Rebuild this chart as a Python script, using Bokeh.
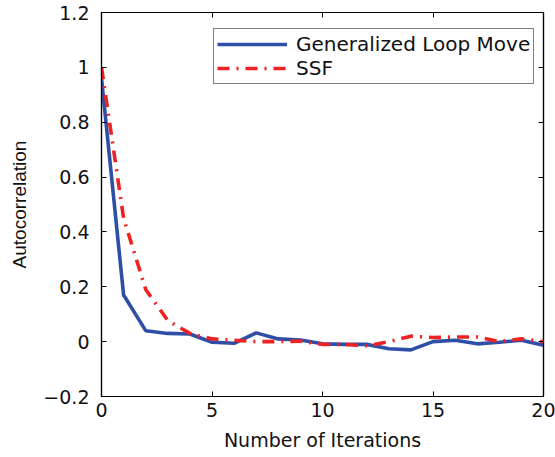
from bokeh.plotting import figure
from bokeh.models import LinearAxis, FixedTicker, Legend, LegendItem, Range1d
from bokeh.embed import file_html
from bokeh.resources import INLINE

iterations = list(range(21))
glm = [0.96, 0.17, 0.04, 0.03, 0.028, -0.002, -0.006, 0.032, 0.01, 0.006, -0.008,
       -0.01, -0.01, -0.026, -0.03, 0.0, 0.005, -0.008, -0.002, 0.005, -0.013]
ssf = [1.0, 0.45, 0.19, 0.077, 0.03, 0.01, 0.005, 0.0, 0.0, 0.002, -0.01,
       -0.01, -0.015, 0.0, 0.02, 0.015, 0.017, 0.017, 0.0, 0.01, 0.0]
x_ticks = [0, 5, 10, 15, 20]
y_ticks = [-0.2, 0, 0.2, 0.4, 0.6, 0.8, 1, 1.2]
y_tick_labels = ["−0.2", "0", "0.2", "0.4", "0.6", "0.8", "1", "1.2"]

FONT = "DejaVu Sans"
YFONT = "Liberation Sans"

p = figure(width=555, height=457, output_backend="svg", toolbar_location=None,
           x_range=Range1d(0, 20), y_range=Range1d(-0.2, 1.2),
           x_axis_location=None, y_axis_location=None,
           min_border_left=101, min_border_right=12, min_border_top=12, min_border_bottom=61)
p.grid.visible = False
p.outline_line_color = "black"
p.outline_line_width = 1.2
p.background_fill_color = "white"
p.border_fill_color = "white"

l1 = p.line(iterations, glm, line_color="#2f4fa7", line_width=3.6)
l2 = p.line(iterations, ssf, line_color="#ee2222", line_width=3.6, line_dash="12 7 2 7")

bottom = LinearAxis(ticker=FixedTicker(ticks=x_ticks), axis_label="Number of Iterations")
left = LinearAxis(ticker=FixedTicker(ticks=y_ticks), axis_label="Autocorrelation",
                  major_label_overrides={t: s for t, s in zip(y_ticks, y_tick_labels)})
top = LinearAxis(ticker=FixedTicker(ticks=x_ticks),
                 major_label_overrides={t: "" for t in x_ticks})
right = LinearAxis(ticker=FixedTicker(ticks=y_ticks),
                   major_label_overrides={t: "" for t in y_ticks})
p.add_layout(bottom, "below")
p.add_layout(left, "left")
p.add_layout(top, "above")
p.add_layout(right, "right")

for ax in [bottom, left, top, right]:
    ax.major_tick_in = 5
    ax.major_tick_out = 0
    ax.minor_tick_line_color = None
    ax.axis_line_color = "black"
    ax.axis_line_width = 1.2
    ax.major_tick_line_color = "black"
    ax.major_tick_line_width = 1
    ax.major_label_text_font = FONT
    ax.major_label_text_font_size = "19px"
    ax.major_label_text_color = "#111111"
    ax.axis_label_text_font = FONT
    ax.axis_label_text_font_style = "normal"
    ax.axis_label_text_font_size = "19px"
    ax.axis_label_text_color = "#111111"
for ax in [top, right]:
    ax.major_label_standoff = 0
left.axis_label_text_font = YFONT
left.axis_label_text_font_size = "19px"
bottom.major_label_standoff = 6
left.major_label_standoff = 12
bottom.axis_label_standoff = 9
left.axis_label_standoff = 10

legend = Legend(items=[LegendItem(label="Generalized Loop Move", renderers=[l1]),
                       LegendItem(label="SSF", renderers=[l2])],
                location=(112, 312))
legend.border_line_color = "black"
legend.border_line_width = 1.2
legend.label_text_font = FONT
legend.label_text_font_size = "20px"
legend.label_text_color = "#111111"
legend.glyph_width = 70
legend.glyph_height = 20
legend.label_height = 20
legend.spacing = 0
legend.padding = 3
legend.margin = 0
legend.label_standoff = 9
legend.background_fill_alpha = 1
p.add_layout(legend, "center")

open("out.html", "w").write(file_html(p, INLINE))
